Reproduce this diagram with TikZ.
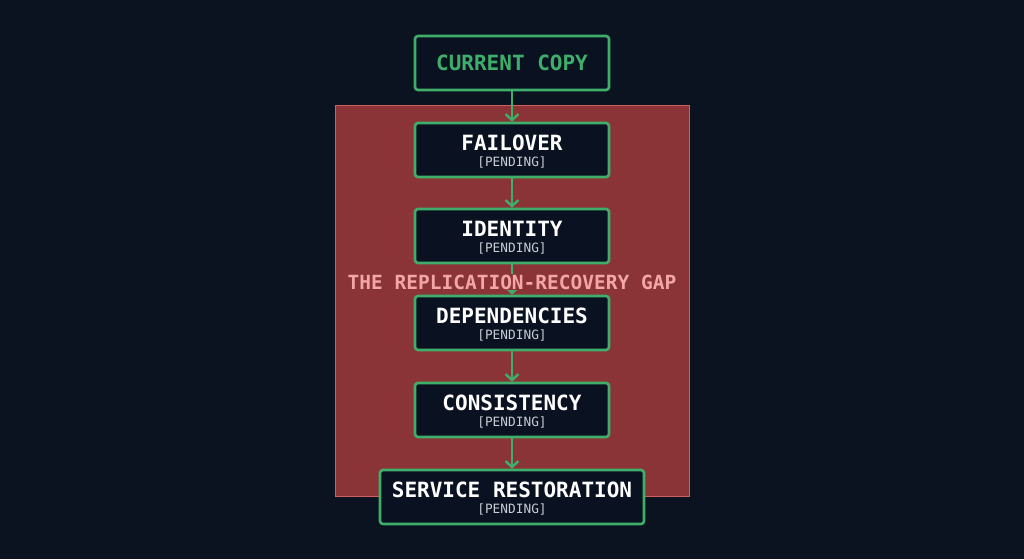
\documentclass[tikz,border=0pt]{standalone}
\usepackage{fontspec}
\setmonofont{DejaVu Sans Mono}
\usetikzlibrary{arrows.meta}
\definecolor{bg}{HTML}{0B1220}
\definecolor{gapfill}{HTML}{8A3438}
\definecolor{gapline}{HTML}{D0605F}
\definecolor{grn}{HTML}{3FAE6A}
\definecolor{pink}{HTML}{F2A6A6}
\definecolor{boxfill}{HTML}{0A1222}
\definecolor{sub}{HTML}{C8CCD4}
\tikzset{
  stagebox/.style={draw=grn, line width=2.6pt, fill=boxfill, rounded corners=3pt, inner sep=0pt},
  flow/.style={draw=grn, line width=2.4pt, -{Straight Barb[length=6pt,width=13pt,line width=2.4pt]}},
  big/.style={font=\ttfamily\bfseries\fontsize{21}{22}\selectfont, text=white},
  small/.style={font=\ttfamily\fontsize{12.8}{13}\selectfont, text=sub}
}
\begin{document}
\begin{tikzpicture}[x=1pt,y=-1pt]
\fill[bg] (0,0) rectangle (1024,559);
\useasboundingbox (0,0) rectangle (1024,559);
\draw[fill=gapfill, draw=gapline, line width=1pt] (335,106) rectangle (689,496);
\node[stagebox, minimum width=194pt, minimum height=54pt] (cur) at (512,63) {};
\node[big, text=grn] at (cur.center) {CURRENT COPY};
\foreach \n/\t/\y/\w in {fail/FAILOVER/150/194, iden/IDENTITY/236/194, dep/DEPENDENCIES/323/194, cons/CONSISTENCY/410/194, serv/SERVICE RESTORATION/497/264}{
  \node[stagebox, minimum width=\w pt, minimum height=54pt] (\n) at (512,\y) {};
  \node[big] (\n t) at (512,\y-7) {\t};
  \node[small] (\n s) at (512,\y+12) {[PENDING]};
}
\draw[flow] (cur) -- (fail);
\draw[flow] (fail) -- (iden);
\draw[flow] (iden) -- (dep);
\draw[flow] (dep) -- (cons);
\draw[flow] (cons) -- (serv);
\node[font=\ttfamily\bfseries\fontsize{19.5}{20}\selectfont, text=pink, fill=gapfill, inner sep=1pt] (gap) at (512,282) {THE REPLICATION-RECOVERY GAP};
\end{tikzpicture}
\end{document}
